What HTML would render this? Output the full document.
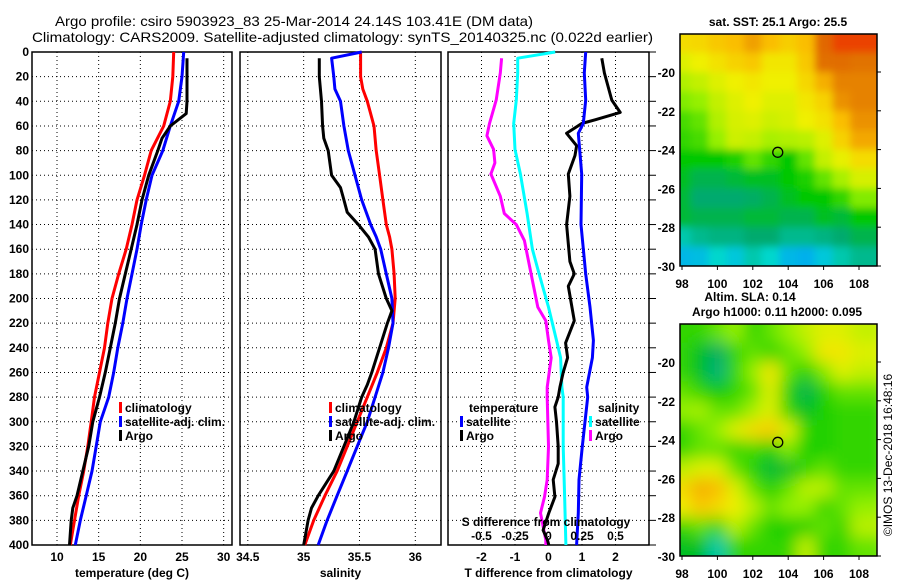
<!DOCTYPE html>
<html><head><meta charset="utf-8"><style>
html,body{margin:0;padding:0;background:#fff;}
svg{display:block;font-family:"Liberation Sans",sans-serif;}
.t{font-size:12px;font-weight:bold;fill:#000;}
.g{stroke:#000;stroke-width:1;stroke-dasharray:1 3;}
</style></head><body>
<svg id="fig" width="900" height="580" viewBox="0 0 900 580" xmlns="http://www.w3.org/2000/svg">
<text x="55" y="26" font-size="14" textLength="478" lengthAdjust="spacingAndGlyphs">Argo profile: csiro 5903923_83 25-Mar-2014 24.14S 103.41E (DM data)</text>
<text x="32" y="42" font-size="14" textLength="621" lengthAdjust="spacingAndGlyphs">Climatology: CARS2009. Satellite-adjusted climatology: synTS_20140325.nc (0.022d earlier)</text>
<text x="778" y="26" font-size="12" font-weight="bold" text-anchor="middle">sat. SST: 25.1 Argo: 25.5</text>
<text x="750" y="301" font-size="12" font-weight="bold" text-anchor="middle">Altim. SLA: 0.14</text>
<text x="777" y="316" font-size="12" font-weight="bold" text-anchor="middle">Argo h1000: 0.11 h2000: 0.095</text>
<text transform="translate(892,455) rotate(-90)" font-size="12" text-anchor="middle">©IMOS 13-Dec-2018 16:48:16</text>
<g id="layer"></g>
</svg>
<script>
// ---- data ----
const depthStd = [0,20,40,60,80,100,120,140,160,180,200,220,240,260,280,300,320,340,360,380,400];
const tempClim = [24.0,23.9,23.6,22.8,21.3,20.5,19.6,19.0,18.3,17.4,16.6,16.1,15.7,15.1,14.5,14.1,13.7,13.2,12.6,12.1,11.6];
const tempSat = [25.2,25.0,24.6,23.6,22.7,21.4,20.7,20.1,19.6,19.0,18.4,17.9,17.3,16.8,16.2,15.2,14.7,14.2,13.5,12.8,12.2];
const depthArgoT = [5,20,40,50,60,70,80,100,120,140,160,180,200,220,240,260,280,300,320,340,360,370,380,400];
const tempArgo = [25.6,25.6,25.6,25.5,23.6,22.6,22.1,21.0,20.2,19.6,18.9,18.2,17.5,17.0,16.4,15.8,15.1,14.3,13.8,13.1,12.4,11.9,11.7,11.5];
const depthClimS = [0,20,30,40,60,80,100,120,140,150,160,180,200,220,240,260,280,300,320,340,360,380,400];
const salClim = [35.51,35.51,35.53,35.57,35.63,35.65,35.68,35.71,35.74,35.77,35.79,35.81,35.82,35.80,35.74,35.66,35.57,35.48,35.39,35.30,35.19,35.09,35.01];
const depthSatS = [0,5,20,30,40,60,80,100,120,140,150,160,180,200,220,240,260,280,300,320,340,360,380,400];
const salSat = [35.52,35.25,35.27,35.28,35.33,35.36,35.40,35.46,35.52,35.60,35.65,35.69,35.74,35.79,35.80,35.76,35.71,35.64,35.57,35.48,35.39,35.30,35.21,35.13];
const depthArgoS = [5,20,40,60,70,80,100,110,120,130,140,150,160,180,200,210,220,240,260,270,280,300,320,340,360,370,380,400];
const salArgo = [35.14,35.14,35.16,35.17,35.18,35.22,35.25,35.33,35.36,35.39,35.49,35.58,35.64,35.67,35.74,35.79,35.75,35.68,35.61,35.57,35.52,35.45,35.36,35.27,35.13,35.07,35.04,35.00];
const depthDS_A = [5,17,39,58,68,79,90,99,117,131,140,153,180,207,218,234,248,272,280,320,347,361,374,396,400];
const sDiffArgo = [-0.35,-0.36,-0.39,-0.44,-0.46,-0.41,-0.40,-0.43,-0.36,-0.33,-0.24,-0.18,-0.13,-0.08,-0.02,0.0,0.02,-0.01,-0.01,0.0,-0.01,-0.03,-0.06,-0.02,-0.02];
const depthDS_S = [0,5,17,39,58,79,99,131,160,180,207,234,248,272,280,320,360,400];
const sDiffSat = [0.05,-0.23,-0.23,-0.24,-0.26,-0.25,-0.21,-0.16,-0.12,-0.07,0.0,0.06,0.09,0.10,0.11,0.11,0.12,0.13];
const depthDT_A = [5,17,39,49,55,58,66,76,84,99,117,140,170,180,190,218,236,248,260,272,280,288,300,320,334,347,361,374,388,396,400];
const tDiffArgo = [1.59,1.67,1.89,2.14,1.39,0.99,0.54,0.84,0.79,0.59,0.64,0.54,0.64,0.77,0.59,0.77,0.51,0.57,0.44,0.34,0.29,0.19,0.24,0.29,0.29,0.14,0.19,0.01,-0.16,-0.03,0.01];
const depthDT_S = [0,17,39,58,66,99,140,180,207,234,248,272,280,320,347,374,400];
const tDiffSat = [1.11,1.07,1.11,1.04,0.89,0.99,0.97,1.11,1.24,1.34,1.31,1.14,1.17,1.01,0.91,0.89,0.84];
const depthTicks = [0,20,40,60,80,100,120,140,160,180,200,220,240,260,280,300,320,340,360,380,400];
const tempTicks = [10,15,20,25,30];
const salTicks = [34.5,35,35.5,36];
const tDiffTicks = [-2,-1,0,1,2];
const sDiffTicks = [-0.5,-0.25,0,0.25,0.5];
const sDiffTickLabels = ['-0.5','-0.25','0','0.25','0.5'];
const lonTicks = [98,100,102,104,106,108];
const latTicks = [-20,-22,-24,-26,-28,-30];
const mapLats = [-18.5,-19.5,-20.5,-21.5,-22.5,-23.5,-24.5,-25.5,-26.5,-27.5,-28.5,-29.5];
const mapLons = [98,99,100,101,102,103,104,105,106,107,108];
const sstGrid = [
[0.74,0.75,0.78,0.8,0.84,0.8,0.77,0.8,0.95,0.98,0.98],
[0.68,0.7,0.73,0.76,0.78,0.72,0.72,0.78,0.92,0.93,0.9],
[0.63,0.65,0.68,0.7,0.72,0.7,0.7,0.75,0.82,0.88,0.88],
[0.58,0.6,0.65,0.68,0.7,0.68,0.68,0.72,0.76,0.86,0.88],
[0.52,0.55,0.63,0.67,0.68,0.66,0.67,0.7,0.73,0.8,0.86],
[0.5,0.52,0.6,0.66,0.65,0.62,0.63,0.64,0.68,0.76,0.83],
[0.45,0.45,0.45,0.48,0.55,0.5,0.45,0.55,0.65,0.69,0.74],
[0.42,0.38,0.38,0.4,0.42,0.42,0.45,0.48,0.55,0.62,0.67],
[0.4,0.35,0.35,0.35,0.36,0.38,0.42,0.45,0.45,0.5,0.58],
[0.4,0.38,0.38,0.38,0.4,0.4,0.38,0.38,0.42,0.4,0.45],
[0.25,0.3,0.32,0.32,0.35,0.35,0.3,0.3,0.32,0.35,0.38],
[0.1,0.12,0.2,0.15,0.25,0.2,0.1,0.08,0.15,0.25,0.3]];
const slaGrid = [
[0.5,0.5,0.55,0.6,0.5,0.55,0.6,0.65,0.68,0.68,0.65],
[0.5,0.42,0.36,0.5,0.55,0.5,0.55,0.6,0.72,0.72,0.68],
[0.5,0.42,0.33,0.5,0.6,0.72,0.55,0.48,0.58,0.68,0.65],
[0.55,0.5,0.45,0.5,0.55,0.68,0.48,0.38,0.48,0.55,0.55],
[0.6,0.62,0.55,0.55,0.62,0.68,0.5,0.42,0.48,0.5,0.5],
[0.5,0.55,0.6,0.68,0.74,0.77,0.68,0.5,0.48,0.5,0.5],
[0.5,0.55,0.55,0.5,0.52,0.48,0.58,0.48,0.48,0.5,0.5],
[0.64,0.68,0.68,0.55,0.48,0.4,0.42,0.5,0.55,0.5,0.5],
[0.74,0.82,0.8,0.68,0.55,0.48,0.55,0.64,0.64,0.55,0.55],
[0.7,0.78,0.74,0.7,0.64,0.55,0.6,0.6,0.5,0.55,0.6],
[0.5,0.55,0.5,0.64,0.55,0.48,0.48,0.48,0.55,0.5,0.64],
[0.42,0.42,0.25,0.5,0.5,0.5,0.5,0.65,0.5,0.5,0.55]];
const argoLon = 103.41, argoLat = -24.14;

// ---- helpers ----
const NS='http://www.w3.org/2000/svg';
const layer=document.getElementById('layer');
function mk(tag,attrs,parent){const e=document.createElementNS(NS,tag);for(const k in attrs)e.setAttribute(k,attrs[k]);(parent||layer).appendChild(e);return e;}
const Y0=52,Y1=545;
const yD=d=>Y0+(Y1-Y0)*d/400;
function lin(d0,d1,r0,r1){return v=>r0+(v-d0)*(r1-r0)/(d1-d0);}
const xT=lin(7,31,32,232), xS=lin(34.43,36.23,240,441), xTD=lin(-3,3,448,649), xSD=lin(-0.75,0.75,448,649);

function panel(name,L,R,xs,ticks,labels,xlabel,showDepth){
  const g=mk('g',{});
  
  
  depthTicks.forEach(d=>{const l=mk('line',{x1:L,x2:R,y1:yD(d),y2:yD(d),class:'g'},g);});
  ticks.forEach((t,i)=>{const x=xs(t);
    if(x>L+1&&x<R-1){const l=mk('line',{x1:x,x2:x,y1:Y0,y2:Y1,class:'g'},g);}
    const tx=mk('text',{x:x,y:561,class:'t','text-anchor':'middle'},g);tx.textContent=labels[i];
    });
  const fr=mk('rect',{x:L,y:Y0,width:R-L,height:Y1-Y0,fill:'none',stroke:'#000','stroke-width':1.5},g);
  
  const xl=mk('text',{x:(L+R)/2,y:577,class:'t','text-anchor':'middle'},g);xl.textContent=xlabel;
  
  if(showDepth){depthTicks.forEach(d=>{const tx=mk('text',{x:29,y:yD(d)+4,class:'t','text-anchor':'end'},g);tx.textContent=d;
    });}
  return g;
}
function series(name,g,xs,vals,depths,color){
  const pts=vals.map((v,i)=>xs(v).toFixed(1)+','+yD(depths[i]).toFixed(1)).join(' ');
  const p=mk('polyline',{points:pts,fill:'none',stroke:color,'stroke-width':3,'stroke-linejoin':'round'},g);
  
  
}
function legendEntry(name,g,x,y,color,label){
  const r=mk('rect',{x:x,y:y-9,width:3,height:11,fill:color},g);
  
  
  const t=mk('text',{x:x+6,y:y+1,class:'t'},g);t.textContent=label;
  
  
}

// panel 1
const p1=panel('temperature-panel',32,232,xT,tempTicks,tempTicks.map(String),'temperature (deg C)',true);
series('temp-climatology-line',p1,xT,tempClim,depthStd,'#f00');
series('temp-satellite-line',p1,xT,tempSat,depthStd,'#00f');
series('temp-argo-line',p1,xT,tempArgo,depthArgoT,'#000');
legendEntry('legend-climatology',p1,119,411,'#f00','climatology');
legendEntry('legend-satellite-adj',p1,119,425,'#00f','satellite-adj. clim.');
legendEntry('legend-argo',p1,119,439,'#000','Argo');
// panel 2
const p2=panel('salinity-panel',240,441,xS,salTicks,salTicks.map(String),'salinity',false);
series('sal-climatology-line',p2,xS,salClim,depthClimS,'#f00');
series('sal-satellite-line',p2,xS,salSat,depthSatS,'#00f');
series('sal-argo-line',p2,xS,salArgo,depthArgoS,'#000');
legendEntry('legend-climatology-2',p2,329,411,'#f00','climatology');
legendEntry('legend-satellite-adj-2',p2,329,425,'#00f','satellite-adj. clim.');
legendEntry('legend-argo-2',p2,329,439,'#000','Argo');
// panel 3
const p3=panel('difference-panel',448,649,xTD,tDiffTicks,tDiffTicks.map(String),'T difference from climatology',false);
depthTicks.forEach(d=>{const l=mk('line',{x1:649,x2:656,y1:yD(d),y2:yD(d),stroke:'#000'},p3);});
series('sdiff-argo-line',p3,xSD,sDiffArgo,depthDS_A,'#f0f');
series('sdiff-satellite-line',p3,xSD,sDiffSat,depthDS_S,'#0ff');
series('tdiff-argo-line',p3,xTD,tDiffArgo,depthDT_A,'#000');
series('tdiff-satellite-line',p3,xTD,tDiffSat,depthDT_S,'#00f');
const lt=mk('text',{x:469,y:412,class:'t'},p3);lt.textContent='temperature';

const ls=mk('text',{x:598,y:412,class:'t'},p3);ls.textContent='salinity';

legendEntry('legend-t-satellite',p3,460,425,'#00f','satellite');
legendEntry('legend-t-argo',p3,460,439,'#000','Argo');
legendEntry('legend-s-satellite',p3,589,425,'#0ff','satellite');
legendEntry('legend-s-argo',p3,589,439,'#f0f','Argo');
const st=mk('text',{x:546,y:526,class:'t','text-anchor':'middle'},p3);st.textContent='S difference from climatology';

sDiffTicks.forEach((s,i)=>{const t=mk('text',{x:xSD(s),y:540,class:'t','text-anchor':'middle'},p3);t.textContent=sDiffTickLabels[i];
  });

// maps
function color(v){
  const stops=[[0,[0,150,255]],[0.2,[0,215,205]],[0.35,[0,170,110]],[0.45,[0,200,0]],[0.6,[150,240,0]],[0.7,[240,240,0]],[0.8,[250,190,0]],[0.9,[225,115,0]],[0.97,[225,100,0]],[1,[255,0,0]]];
  for(let i=1;i<stops.length;i++){if(v<=stops[i][0]){const a=stops[i-1],b=stops[i],f=(v-a[0])/(b[0]-a[0]);
    return 'rgb('+a[1].map((c,k)=>Math.round(c+(b[1][k]-c)*f)).join(',')+')';}}
  return 'rgb(255,0,0)';
}
const xLon=lin(98,108,682,859), yLat=lin(-20,-30,0,194);
function map(name,top,grid,blur){
  const g=mk('g',{});
  
  
  const L=680,R=877,T=top,B=top+232;
  const cid=name+'-clip';
  const cp=mk('clipPath',{id:cid},g);mk('rect',{x:L,y:T,width:R-L,height:B-T},cp);
  const fid=name+'-blur';
  const f=mk('filter',{id:fid,x:'-10%',y:'-10%',width:'120%',height:'120%'},g);mk('feGaussianBlur',{stdDeviation:blur},f);
  const cg=mk('g',{'clip-path':'url(#'+cid+')'},g);
  const bg=mk('g',{filter:'url(#'+fid+')'},cg);
  const yl=v=>top+38+yLat(v);
  grid.forEach((row,r)=>row.forEach((v,c)=>{
    let x0=xLon(mapLons[c]-0.5),x1=xLon(mapLons[c]+0.5),y0=yl(mapLats[r]+0.5),y1=yl(mapLats[r]-0.5);
    if(c===0)x0-=20; if(c===row.length-1)x1+=20; if(r===0)y0-=20; if(r===grid.length-1)y1+=20;
    const cell=mk('rect',{x:x0,y:y0,width:x1-x0+0.5,height:y1-y0+0.5,fill:color(v)},bg);
    
    
  }));
  const fr=mk('rect',{x:L,y:T,width:R-L,height:B-T,fill:'none',stroke:'#000','stroke-width':1.5},g);
  
  const c=mk('circle',{cx:xLon(argoLon),cy:yl(argoLat),r:5,fill:'none',stroke:'#000','stroke-width':1.3},g);
  
  lonTicks.forEach(v=>{const t=mk('text',{x:xLon(v),y:B+22,class:'t','text-anchor':'middle'},g);t.textContent=v;
    
    mk('line',{x1:xLon(v),x2:xLon(v),y1:B,y2:B+4,stroke:'#000'},g);});
  latTicks.forEach(v=>{const t=mk('text',{x:675,y:yl(v)+5,class:'t','text-anchor':'end'},g);t.textContent=v;
    
    mk('line',{x1:R,x2:R+4,y1:yl(v),y2:yl(v),stroke:'#000'},g);});
}
map('sst-map',34,sstGrid,4);
map('sla-map',324,slaGrid,8);
</script>
</body></html>
